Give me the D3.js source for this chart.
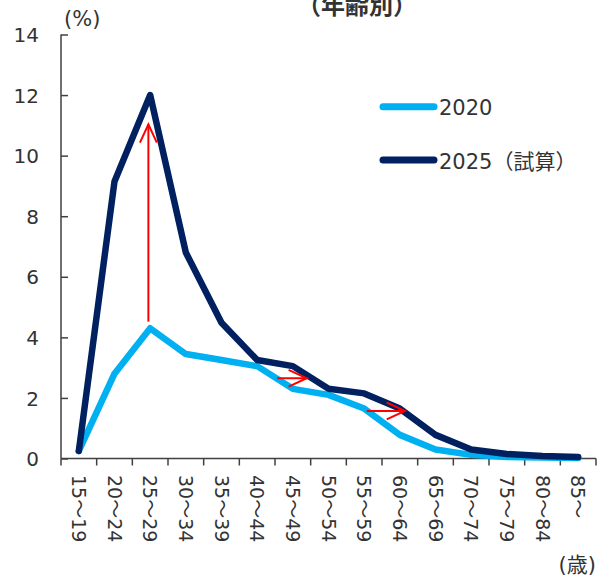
<!DOCTYPE html>
<html>
<head>
<meta charset="utf-8">
<script src="https://cdn.jsdelivr.net/npm/d3@7"></script>
<style>
  body { margin: 0; background: #fff; }
  text { font-family: "DejaVu Sans", "Noto Sans CJK JP", sans-serif; fill: #333; }
</style>
</head>
<body>
<div id="chart"></div>
<script>
// age groups (x categories)
var ages = ["15～19", "20～24", "25～29", "30～34", "35～39", "40～44", "45～49", "50～54",
            "55～59", "60～64", "65～69", "70～74", "75～79", "80～84", "85～"];
// share of each age group (%)
var v2020 = [0.25, 2.8, 4.3, 3.45, 3.25, 3.05, 2.3, 2.1, 1.65, 0.78, 0.3, 0.12, 0.05, 0.03, 0.02];
var v2025 = [0.25, 9.15, 12.0, 6.8, 4.48, 3.25, 3.05, 2.3, 2.15, 1.65, 0.78, 0.3, 0.15, 0.08, 0.05];
var yTicks = [0, 2, 4, 6, 8, 10, 12, 14];
var seriesNames = ["2020", "2025（試算）"];
// red arrows: [x index from, y from, x index to, y to]
var arrows = [
    [1.95, 4.52, 1.95, 11.03],
    [5.56, 2.65, 6.39, 2.65],
    [8.07, 1.57, 9.14, 1.57]
];

function init() {
    var width = 599, height = 579;
    var left = 61, right = 596, top = 34.5, bottom = 458.5;

    var svg = d3.select("#chart").append("svg")
        .attr("width", width)
        .attr("height", height);

    var x = d3.scaleBand().domain(ages).range([left, right]).padding(0);
    var xi = d3.scaleLinear().domain([-0.5, ages.length - 0.5]).range([left, right]);
    var y = d3.scaleLinear().domain([0, 14]).range([bottom, top]);

    var colours = ["#00B0F0", "#002060"];

    // title (cut off at the top edge, as in the source)
    svg.append("text")
        .attr("x", 357).attr("y", 14)
        .attr("text-anchor", "middle")
        .style("font-size", "24px")
        .style("font-weight", "bold")
        .text("（年齢別）");

    svg.append("text")
        .attr("x", 64).attr("y", 26)
        .style("font-size", "21px")
        .text("(%)");

    // y axis
    var yAxis = d3.axisRight(y).tickValues(yTicks).tickSize(7).tickFormat(d3.format("d"));
    var gy = svg.append("g").attr("transform", `translate(${left},0)`).call(yAxis);
    gy.select(".domain").remove();
    gy.selectAll("line").attr("stroke", "#404040").attr("stroke-width", 1.5);
    gy.selectAll("text")
        .attr("x", -22).attr("dy", "0.36em")
        .attr("text-anchor", "end")
        .style("font-size", "20px")
        .style("font-family", "'DejaVu Sans', sans-serif")
        .style("fill", "#333");

    svg.append("line")
        .attr("x1", left).attr("x2", left)
        .attr("y1", top).attr("y2", bottom)
        .attr("stroke", "#404040").attr("stroke-width", 1.5);

    // x axis
    var edges = ages.map(d => x(d)).concat([right]);
    svg.append("line")
        .attr("x1", left).attr("x2", right)
        .attr("y1", bottom).attr("y2", bottom)
        .attr("stroke", "#404040").attr("stroke-width", 1.5);
    svg.selectAll(".xtick")
        .data(edges)
        .enter().append("line")
        .attr("class", "xtick")
        .attr("x1", d => d).attr("x2", d => d)
        .attr("y1", bottom).attr("y2", bottom + 7)
        .attr("stroke", "#404040").attr("stroke-width", 1.5);

    svg.selectAll(".xlabel")
        .data(ages)
        .enter().append("text")
        .attr("class", "xlabel")
        .attr("transform", d => `translate(${x(d) + x.bandwidth() / 2},475) rotate(90)`)
        .attr("dominant-baseline", "central")
        .style("font-size", "19px")
        .text(d => d);

    svg.append("text")
        .attr("x", 596).attr("y", 572)
        .attr("text-anchor", "end")
        .style("font-size", "21px")
        .text("(歳)");

    // lines
    var line = d3.line()
        .x((d, i) => x(ages[i]) + x.bandwidth() / 2)
        .y(d => y(d));

    [v2020, v2025].forEach((vals, k) => {
        svg.append("path")
            .datum(vals)
            .attr("d", line)
            .attr("fill", "none")
            .attr("stroke", colours[k])
            .attr("stroke-width", 6.5)
            .attr("stroke-linejoin", "round")
            .attr("stroke-linecap", "round");
    });

    // red arrows
    arrows.forEach(a => {
        var x1 = xi(a[0]), y1 = y(a[1]), x2 = xi(a[2]), y2 = y(a[3]);
        var ang = Math.atan2(y2 - y1, x2 - x1);
        var len = 20, spread = 25 * Math.PI / 180;
        var w1 = [x2 - len * Math.cos(ang - spread), y2 - len * Math.sin(ang - spread)];
        var w2 = [x2 - len * Math.cos(ang + spread), y2 - len * Math.sin(ang + spread)];
        svg.append("line")
            .attr("x1", x1).attr("y1", y1).attr("x2", x2).attr("y2", y2)
            .attr("stroke", "#FF0000").attr("stroke-width", 2);
        svg.append("path")
            .attr("d", `M${w1[0]},${w1[1]}L${x2},${y2}L${w2[0]},${w2[1]}`)
            .attr("fill", "none")
            .attr("stroke", "#FF0000").attr("stroke-width", 2);
    });

    // legend
    var legend = svg.append("g").attr("transform", "translate(380,0)");
    var legendY = [106.7, 160];
    seriesNames.forEach((name, k) => {
        legend.append("line")
            .attr("x1", 3).attr("x2", 54)
            .attr("y1", legendY[k]).attr("y2", legendY[k])
            .attr("stroke", colours[k])
            .attr("stroke-width", 7)
            .attr("stroke-linecap", "round");
        legend.append("text")
            .attr("x", 59).attr("y", legendY[k] + 8.5)
            .style("font-size", "21px")
            .text(name);
    });
}

window.onload = init;
</script>
</body>
</html>
